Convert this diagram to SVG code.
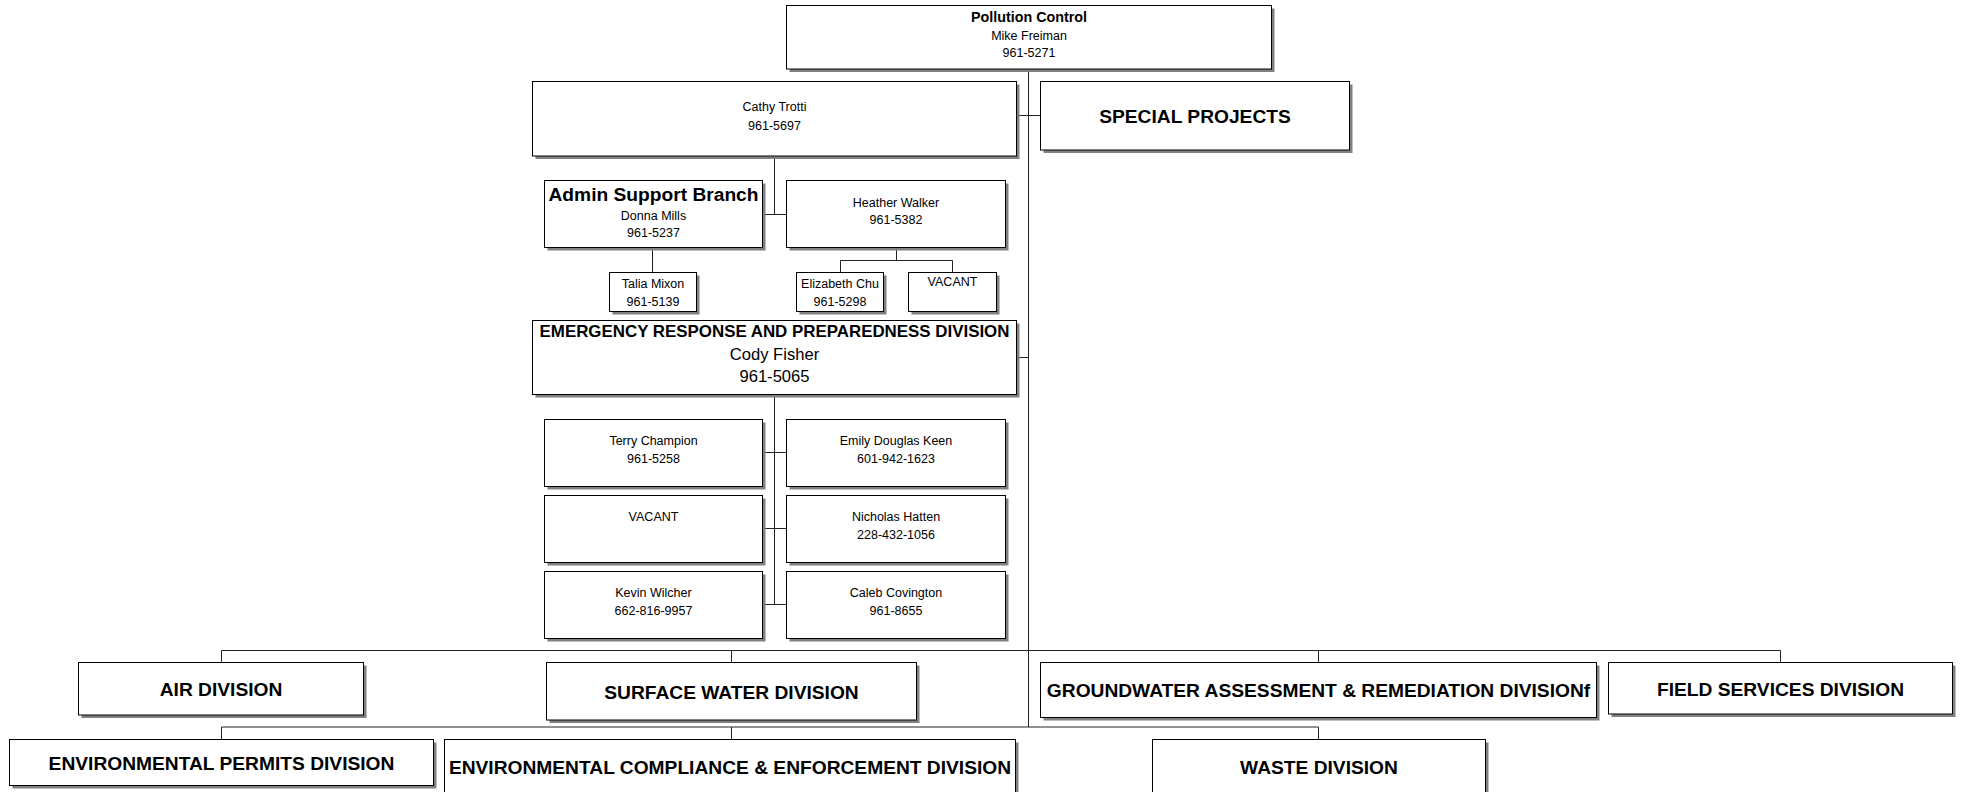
<svg xmlns="http://www.w3.org/2000/svg" width="1961" height="792" viewBox="0 0 1961 792">
<style>
.sh{fill:#808080;stroke:none}
.bx{fill:#fff;stroke:#000;stroke-width:1}
.c{fill:none;stroke:#222;stroke-width:1}
text{font-family:"Liberation Sans",Arial,sans-serif;text-anchor:middle;fill:#000}
.s{font-size:12.5px}
.b{font-size:19.2px;font-weight:bold}
.t{font-size:14.3px;font-weight:bold}
.e{font-size:16.9px;font-weight:bold}
.m{font-size:16.6px}
</style>
<rect width="1961" height="792" fill="#fff"/>
<g id="connectors">
<path class="c" d="M1028.5 69V727M1016.5 115.5H1040.5M1016.5 357.5H1028.5M774.5 156V214.5M762.5 214.5H786.5M652.5 247.5V272.5M896.5 247.5V260.5M840.5 260.5H952.5M840.5 260.5V272.5M952.5 260.5V272.5M774.5 394.5V604.5M762.5 452.5H786.5M762.5 528.5H786.5M762.5 604.5H786.5M221.5 650.5H1780.5M221.5 650.5V662.5M731.5 650.5V662.5M1318.5 650.5V662.5M1780.5 650.5V662.5M221.5 727H1318.5M221.5 727V739.5M731.5 727V739.5M1318.5 727V739.5"/>
</g>
<g id="pollution"><rect class="sh" x="789.5" y="8.5" width="485" height="63.5"/><rect class="bx" x="786.5" y="5.5" width="485" height="63.5"/>
<text class="t" x="1029" y="21.5">Pollution Control</text><text class="s" x="1029" y="39.5">Mike Freiman</text><text class="s" x="1029" y="57">961-5271</text></g>
<g id="cathy"><rect class="sh" x="535.5" y="84.5" width="484" height="74.5"/><rect class="bx" x="532.5" y="81.5" width="484" height="74.5"/>
<text class="s" x="774.5" y="111">Cathy Trotti</text><text class="s" x="774.5" y="129.5">961-5697</text></g>
<g id="special"><rect class="sh" x="1043.5" y="84.5" width="309" height="68.5"/><rect class="bx" x="1040.5" y="81.5" width="309" height="68.5"/>
<text class="b" x="1195" y="122.5">SPECIAL PROJECTS</text></g>
<g id="admin"><rect class="sh" x="547.5" y="183.5" width="218" height="67"/><rect class="bx" x="544.5" y="180.5" width="218" height="67"/>
<text class="b" x="653.5" y="201">Admin Support Branch</text><text class="s" x="653.5" y="219.5">Donna Mills</text><text class="s" x="653.5" y="237">961-5237</text></g>
<g id="heather"><rect class="sh" x="789.5" y="183.5" width="219" height="67"/><rect class="bx" x="786.5" y="180.5" width="219" height="67"/>
<text class="s" x="896" y="206.8">Heather Walker</text><text class="s" x="896" y="224.3">961-5382</text></g>
<g id="talia"><rect class="sh" x="612.5" y="275.5" width="87" height="39"/><rect class="bx" x="609.5" y="272.5" width="87" height="39"/>
<text class="s" x="653" y="288">Talia Mixon</text><text class="s" x="653" y="305.5">961-5139</text></g>
<g id="elizabeth"><rect class="sh" x="799.5" y="275.5" width="87" height="39"/><rect class="bx" x="796.5" y="272.5" width="87" height="39"/>
<text class="s" x="840" y="288">Elizabeth Chu</text><text class="s" x="840" y="305.5">961-5298</text></g>
<g id="vacant1"><rect class="sh" x="911.5" y="275.5" width="88" height="39"/><rect class="bx" x="908.5" y="272.5" width="88" height="39"/>
<text class="s" x="952.5" y="286">VACANT</text></g>
<g id="emergency"><rect class="sh" x="535.5" y="323.5" width="484" height="74"/><rect class="bx" x="532.5" y="320.5" width="484" height="74"/>
<text class="e" x="774.5" y="337.3">EMERGENCY RESPONSE AND PREPAREDNESS DIVISION</text><text class="m" x="774.5" y="360">Cody Fisher</text><text class="m" x="774.5" y="381.7">961-5065</text></g>
<g id="terry"><rect class="sh" x="547.5" y="422.5" width="218" height="67"/><rect class="bx" x="544.5" y="419.5" width="218" height="67"/>
<text class="s" x="653.5" y="445">Terry Champion</text><text class="s" x="653.5" y="462.8">961-5258</text></g>
<g id="emily"><rect class="sh" x="789.5" y="422.5" width="219" height="67"/><rect class="bx" x="786.5" y="419.5" width="219" height="67"/>
<text class="s" x="896" y="445">Emily Douglas Keen</text><text class="s" x="896" y="462.8">601-942-1623</text></g>
<g id="vacant2"><rect class="sh" x="547.5" y="498.5" width="218" height="67"/><rect class="bx" x="544.5" y="495.5" width="218" height="67"/>
<text class="s" x="653.5" y="521">VACANT</text></g>
<g id="nicholas"><rect class="sh" x="789.5" y="498.5" width="219" height="67"/><rect class="bx" x="786.5" y="495.5" width="219" height="67"/>
<text class="s" x="896" y="521">Nicholas Hatten</text><text class="s" x="896" y="538.8">228-432-1056</text></g>
<g id="kevin"><rect class="sh" x="547.5" y="574.5" width="218" height="67"/><rect class="bx" x="544.5" y="571.5" width="218" height="67"/>
<text class="s" x="653.5" y="597">Kevin Wilcher</text><text class="s" x="653.5" y="614.5">662-816-9957</text></g>
<g id="caleb"><rect class="sh" x="789.5" y="574.5" width="219" height="67"/><rect class="bx" x="786.5" y="571.5" width="219" height="67"/>
<text class="s" x="896" y="597">Caleb Covington</text><text class="s" x="896" y="614.5">961-8655</text></g>
<g id="air"><rect class="sh" x="81.5" y="665.5" width="285" height="52.5"/><rect class="bx" x="78.5" y="662.5" width="285" height="52.5"/>
<text class="b" x="221" y="696">AIR DIVISION</text></g>
<g id="surface"><rect class="sh" x="549.5" y="665.5" width="370" height="57.5"/><rect class="bx" x="546.5" y="662.5" width="370" height="57.5"/>
<text class="b" x="731.5" y="698.5">SURFACE WATER DIVISION</text></g>
<g id="groundwater"><rect class="sh" x="1043.5" y="665.5" width="556" height="55"/><rect class="bx" x="1040.5" y="662.5" width="556" height="55"/>
<text class="b" x="1318.5" y="696.5">GROUNDWATER ASSESSMENT &amp; REMEDIATION DIVISIONf</text></g>
<g id="field"><rect class="sh" x="1611.5" y="665.5" width="344" height="51.5"/><rect class="bx" x="1608.5" y="662.5" width="344" height="51.5"/>
<text class="b" x="1780.5" y="695.5">FIELD SERVICES DIVISION</text></g>
<g id="permits"><rect class="sh" x="12.5" y="742.5" width="424" height="46"/><rect class="bx" x="9.5" y="739.5" width="424" height="46"/>
<text class="b" x="221.5" y="770">ENVIRONMENTAL PERMITS DIVISION</text></g>
<g id="compliance"><rect class="sh" x="447.5" y="742.5" width="571" height="60"/><rect class="bx" x="444.5" y="739.5" width="571" height="60"/>
<text class="b" x="730" y="773.5">ENVIRONMENTAL COMPLIANCE &amp; ENFORCEMENT DIVISION</text></g>
<g id="waste"><rect class="sh" x="1155.5" y="742.5" width="333" height="60"/><rect class="bx" x="1152.5" y="739.5" width="333" height="60"/>
<text class="b" x="1319" y="773.5">WASTE DIVISION</text></g>
</svg>
